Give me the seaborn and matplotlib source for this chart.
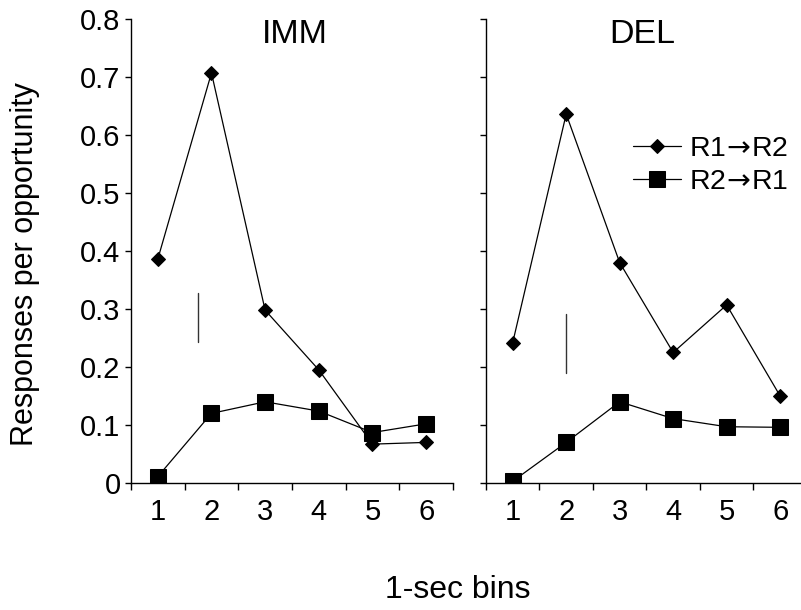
import matplotlib
matplotlib.use("Agg")
import matplotlib.pyplot as plt
import seaborn as sns
import pandas as pd

# valores
bins = [1, 2, 3, 4, 5, 6]
imm_r1_r2 = [0.386, 0.707, 0.298, 0.195, 0.067, 0.070]
imm_r2_r1 = [0.011, 0.120, 0.140, 0.124, 0.087, 0.102]
del_r1_r2 = [0.242, 0.636, 0.380, 0.225, 0.307, 0.150]
del_r2_r1 = [0.003, 0.070, 0.140, 0.111, 0.097, 0.096]
series_names = ["R1$\\!\\rightarrow\\!$R2", "R2$\\!\\rightarrow\\!$R1"]
panel_titles = ["IMM", "DEL"]
y_ticks = [0, 0.1, 0.2, 0.3, 0.4, 0.5, 0.6, 0.7, 0.8]
y_tick_labels = ["0", "0.1", "0.2", "0.3", "0.4", "0.5", "0.6", "0.7", "0.8"]

# pequenas marcas verticais em cada painel
mark_x = [1.75, 2.0]
mark_low = [0.243, 0.190]
mark_high = [0.328, 0.291]

rows = []
for panel, s1, s2 in [("IMM", imm_r1_r2, imm_r2_r1), ("DEL", del_r1_r2, del_r2_r1)]:
    for b, v1, v2 in zip(bins, s1, s2):
        rows.append({"panel": panel, "bin": b, "series": series_names[0], "value": v1})
        rows.append({"panel": panel, "bin": b, "series": series_names[1], "value": v2})
df = pd.DataFrame(rows)

sns.set_style("ticks")
plt.rcParams['font.family'] = ['Liberation Sans', 'DejaVu Sans']
plt.rcParams['text.color'] = 'black'
plt.rcParams['xtick.color'] = 'black'
plt.rcParams['ytick.color'] = 'black'
plt.rcParams['axes.labelcolor'] = 'black'

fig = plt.figure(figsize=(8.01, 6.10), dpi=100)
ax1 = fig.add_axes([0.1635, 0.2082, 0.402, 0.7607])
ax2 = fig.add_axes([0.6067, 0.2082, 0.3933, 0.7607])

styles = {series_names[0]: dict(marker="D", markersize=7),
          series_names[1]: dict(marker="s", markersize=12)}

for i, (ax, title) in enumerate(zip([ax1, ax2], panel_titles)):
    sub = df[df["panel"] == title]
    for name in series_names:
        d = sub[sub["series"] == name]
        sns.lineplot(data=d, x="bin", y="value", ax=ax, color="black", linewidth=0.9,
                     markeredgecolor="black", label=name if i == 1 else None,
                     legend=(i == 1), **styles[name])
    ax.plot([mark_x[i], mark_x[i]], [mark_low[i], mark_high[i]], color="#333333", lw=1)

    ax.set_ylim(0, 0.8)
    ax.set_yticks(y_ticks)
    ax.set_xticks(bins)
    ax.set_xticks([b - 0.5 for b in bins] + [6.5], minor=True)
    ax.tick_params(axis="x", which="major", length=0, pad=11, labelsize=21)
    ax.tick_params(axis="x", which="minor", length=5, width=1, direction="out")
    ax.tick_params(axis="y", which="major", length=4.5, width=1, pad=3, labelsize=21)
    ax.set_xlabel("")
    ax.set_ylabel("")
    for s in ["top", "right"]:
        ax.spines[s].set_visible(False)
    for s in ["left", "bottom"]:
        ax.spines[s].set_color("black")
        ax.spines[s].set_linewidth(1)

ax1.set_xlim(0.5, 6.5)
ax1.set_yticklabels(y_tick_labels)
ax2.set_xlim(0.5, 6.39)
ax2.set_yticklabels([])

ax1.text(0.508, 0.967, panel_titles[0], transform=ax1.transAxes, ha="center", va="center", fontsize=24.5)
ax2.text(0.495, 0.967, panel_titles[1], transform=ax2.transAxes, ha="center", va="center", fontsize=24.5)

ax2.legend(loc="upper left", bbox_to_anchor=(0.467, 0.748), frameon=False, fontsize=20.5,
           handlelength=1.7, handletextpad=0.25, labelspacing=0.25, borderpad=0, borderaxespad=0)

fig.text(0.031, 0.567, "Responses per opportunity", rotation=90, ha="center", va="center", fontsize=22)
fig.text(0.572, 0.033, "1-sec bins", ha="center", va="center", fontsize=23)

fig.savefig("out.png", dpi=100)
